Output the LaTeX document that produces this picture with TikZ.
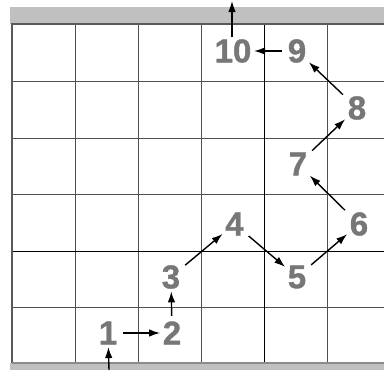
\documentclass[tikz,border=0pt]{standalone}
\usepackage{fontspec}
\setmainfont{Liberation Sans}
\newfontfamily\numfont[FakeBold=1.2]{Liberation Sans Bold}
\usetikzlibrary{arrows.meta}
\definecolor{bargray}{HTML}{C0C0C0}
\definecolor{framegray}{HTML}{5A5A5A}
\definecolor{gridgray}{HTML}{505050}
\definecolor{numgray}{HTML}{777777}
\begin{document}
\begin{tikzpicture}[x=1pt,y=-1pt,
  num/.style={text=numgray, font=\numfont\fontsize{33}{33}\selectfont, inner sep=2.5pt},
  conn/.style={line width=1.4pt, -{Latex[length=11pt,width=7.5pt]}, shorten <=3pt},
  gridline/.style={gridgray, line width=0.7pt},
  axisline/.style={black, line width=1pt}]
\useasboundingbox (0,0) rectangle (384,370);
% bars
\fill[bargray] (10,7) rectangle (384,24);
\fill[bargray] (10,363) rectangle (384,370);
% grid
\foreach \x in {75,138,201,327} \draw[gridline] (\x,24) -- (\x,363);
\foreach \y in {81,138,194,307} \draw[gridline] (12,\y) -- (384,\y);
\draw[axisline] (264,24) -- (264,363);
\draw[axisline] (12,251) -- (384,251);
% frame
\draw[framegray, line width=2pt] (11.5,363) -- (11.5,24) -- (384,24);
\draw[framegray!70, line width=1.2pt] (11.5,363) -- (384,363);
% numbers
\node[num] (n1) at (108,333) {1};
\node[num] (n2) at (172,333) {2};
\node[num] (n3) at (171,277) {3};
\node[num] (n4) at (234.5,224) {4};
\node[num] (n5) at (297,277) {5};
\node[num] (n6) at (359,224) {6};
\node[num] (n7) at (298,164) {7};
\node[num] (n8) at (357,108) {8};
\node[num] (n9) at (297,51) {9};
\node[num] (n10) at (233,51) {10};
\coordinate (in) at (109,370);
\coordinate (out) at (232,1);
% connectors
\draw[conn, shorten <=0pt] (in) -- (n1);
\draw[conn] (n1) -- (n2);
\draw[conn] (n2) -- (n3);
\draw[conn] (n3) -- (n4);
\draw[conn] (n4) -- (n5);
\draw[conn] (n5) -- (n6);
\draw[conn] (n6) -- (n7);
\draw[conn] (n7) -- (n8);
\draw[conn] (n8) -- (n9);
\draw[conn] (n9) -- (n10);
\draw[conn, shorten <=0pt] (n10.north -| out) -- (out);
\end{tikzpicture}
\end{document}
